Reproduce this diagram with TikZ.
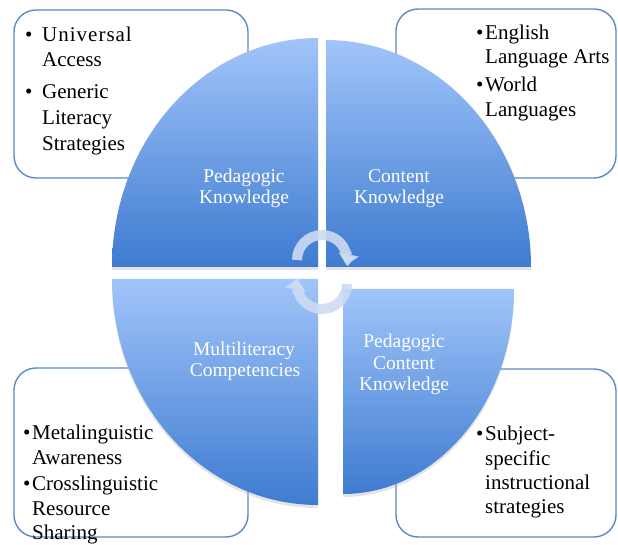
\documentclass[tikz,border=0pt]{standalone}
\usepackage{fontspec}
\setmainfont{Liberation Serif}
\usetikzlibrary{arrows.meta}
\definecolor{qtop}{RGB}{161,197,250}
\definecolor{qbot}{RGB}{62,123,208}
\definecolor{boxline}{RGB}{91,138,198}
\definecolor{arrowc}{RGB}{205,219,242}
\tikzset{
  cbox/.style={draw=boxline, line width=1.4pt, fill=white, rounded corners=22pt},
  quarter/.style={top color=qtop, bottom color=qbot},
  qshadow/.style={fill=black!30, opacity=0.35},
  btxt/.style={anchor=base west, inner sep=0pt, font=\fontsize{21}{25}\selectfont, text=black},
  lbl/.style={anchor=base, inner sep=0pt, font=\fontsize{19.5}{22}\selectfont, text=white},
  cyc/.style={draw=arrowc, line width=10pt, opacity=0.9, -{Triangle[width=20pt,length=11pt]}}
}
\begin{document}
\begin{tikzpicture}[x=1pt,y=1pt]
\useasboundingbox (0,0) rectangle (618,544);
% corner boxes
\draw[cbox] (14,366) rectangle (248,534);
\draw[cbox] (396,366) rectangle (616,535);
\draw[cbox] (14,7) rectangle (248,176);
\draw[cbox] (396,7) rectangle (616,175);
% shadows
\fill[qshadow] (318,274) -- (112,274) arc[start angle=180,end angle=90,x radius=206,y radius=229] -- cycle;
\fill[qshadow] (326,274) -- (326,501) arc[start angle=90,end angle=0,x radius=205,y radius=227] -- cycle;
\fill[qshadow] (318,262) -- (112,262) arc[start angle=180,end angle=270,x radius=206,y radius=226] -- cycle;
\fill[qshadow] (343,252) -- (514,252) arc[start angle=0,end angle=-90,x radius=171,y radius=205] -- cycle;
% quarters
\shade[quarter] (318,277) -- (112,277) arc[start angle=180,end angle=90,x radius=206,y radius=229] -- cycle;
\shade[quarter] (326,277) -- (326,504) arc[start angle=90,end angle=0,x radius=205,y radius=227] -- cycle;
\shade[quarter] (318,265) -- (112,265) arc[start angle=180,end angle=270,x radius=206,y radius=226] -- cycle;
\shade[quarter] (343,255) -- (514,255) arc[start angle=0,end angle=-90,x radius=171,y radius=205] -- cycle;
% cycle arrows
\coordinate (ca) at (322,284);
\coordinate (cb) at (322,260);
\draw[cyc] ([shift={(180:25)}]ca) arc[start angle=180,end angle=-12,radius=25];
\draw[cyc] ([shift={(0:25)}]cb) arc[start angle=0,end angle=-192,radius=25];
% labels
\node[lbl] (pk1) at (244,361) {Pedagogic};
\node[lbl] (pk2) at (244,340) {Knowledge};
\node[lbl] (ck1) at (399,361) {Content};
\node[lbl] (ck2) at (399,340) {Knowledge};
\node[lbl] (mc1) at (244,189) {Multiliteracy};
\node[lbl] (mc2) at (245,168) {Competencies};
\node[lbl] (pc1) at (404,197) {Pedagogic};
\node[lbl] (pc2) at (404,175) {Content};
\node[lbl] (pc3) at (404,154) {Knowledge};
% top-left box text
\node[btxt] (b1) at (25,502) {\textbullet};
\node[btxt] (t1) at (42,502) {U\kern1pt n\kern1pt i\kern1pt v\kern1pt e\kern1pt r\kern1pt s\kern1pt a\kern1pt l};
\node[btxt] (t2) at (42,477) {Access};
\node[btxt] (b2) at (25,445) {\textbullet};
\node[btxt] (t3) at (42,445) {Generic};
\node[btxt] (t4) at (42,419) {Literacy};
\node[btxt] (t5) at (42,393) {Strategies};
% top-right box text
\node[btxt] (b3) at (476,504) {\textbullet};
\node[btxt] (r1) at (485,504) {English};
\node[btxt] (r2) at (485,480) {Language Arts};
\node[btxt] (b4) at (476,452) {\textbullet};
\node[btxt] (r3) at (485,452) {World};
\node[btxt] (r4) at (485,427) {Languages};
% bottom-left box text
\node[btxt] (b5) at (23,105) {\textbullet};
\node[btxt] (l1) at (32,105) {Metalinguistic};
\node[btxt] (l2) at (32,80) {Awareness};
\node[btxt] (b6) at (23,54) {\textbullet};
\node[btxt] (l3) at (32,54) {Crosslinguistic};
\node[btxt] (l4) at (32,29) {Resource};
\node[btxt] (l5) at (32,5) {Sharing};
% bottom-right box text
\node[btxt] (b7) at (476,104) {\textbullet};
\node[btxt] (s1) at (485,104) {Subject-};
\node[btxt] (s2) at (485,79) {specific};
\node[btxt] (s3) at (485,55) {instructional};
\node[btxt] (s4) at (485,31) {strategies};
\end{tikzpicture}
\end{document}
